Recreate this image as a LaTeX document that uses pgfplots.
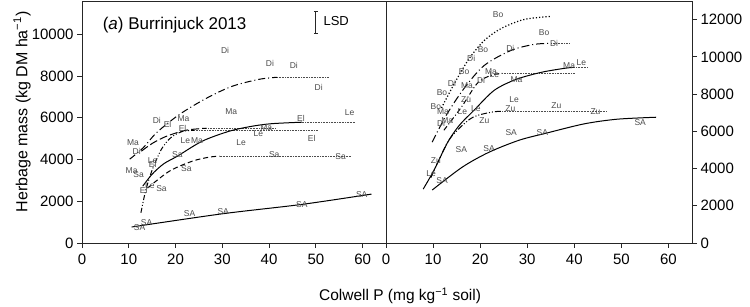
\documentclass[border=0pt]{standalone}
\usepackage{fontspec}
\setmainfont{Liberation Sans}
\usepackage{pgfplots}
\pgfplotsset{compat=1.18}
\begin{document}
\begin{tikzpicture}
\pgfplotsset{
  panel/.style={
    scale only axis, height=242bp, xmin=0, xmax=65, xtick={0,10,...,60},
    tick align=outside, major tick length=5bp, xtick pos=bottom,
    scaled y ticks=false, scaled x ticks=false,
    ticklabel style={font=\fontsize{15bp}{17bp}\selectfont},
    xticklabel style={yshift=-3bp},
    /pgf/number format/assume math mode=true, /pgf/number format/1000 sep={},
    axis line style={line width=0.9bp, black!85},
    every tick/.style={black!85, line width=0.8bp},
  },
  lab/.style={only marks, mark=*, mark size=0pt, nodes near coords, point meta=explicit symbolic,
    nodes near coords align=center,
    every node near coord/.append style={font=\fontsize{8.5bp}{9bp}\selectfont, text=black!70, inner sep=0pt}},
  ext/.style={densely dotted, line width=0.6bp, black!70},
  cur/.style={line width=1bp, black, smooth},
}
% ---------------- left panel ----------------
\begin{axis}[panel, at={(82bp,64bp)}, anchor=south west, width=304bp,
  ymin=0, ymax=11600, ytick={0,2000,...,10000}, ytick pos=left]
% Di (dash-dot)
\addplot[cur, dash pattern=on 7bp off 3bp on 1bp off 3bp] coordinates {(10.2,4019) (13.0,4545) (16,5300) (20.9,6172) (26.6,6938) (32.1,7512) (37.9,7847) (41.7,7943)};
\addplot[ext] coordinates {(41.7,7943) (52.8,7943)};
% Ma (long dash)
\addplot[cur, dash pattern=on 8bp off 3bp] coordinates {(12.7,4402) (15.1,4785) (18.1,5120) (22.3,5407) (26.6,5502)};
\addplot[ext] coordinates {(26.6,5502) (41.5,5502)};
% El (steep dash-dot-dot)
\addplot[cur, dash pattern=on 5bp off 2bp on 1bp off 2bp on 1bp off 2bp] coordinates {(12.6,1450) (13.6,2500) (15.0,3500) (17.0,4500) (19.0,5050) (21.5,5350) (24,5400)};
\addplot[ext] coordinates {(24,5400) (50.6,5400)};
% Le (solid)
\addplot[cur] coordinates {(13,2727) (15,3300) (17.5,3800) (20.4,4163) (25.7,4880) (31.5,5359) (36.4,5598) (40.6,5720) (47,5790)};
\addplot[ext] coordinates {(47,5790) (58.5,5790)};
% Sa (dashed)
\addplot[cur, dash pattern=on 5bp off 3bp] coordinates {(14,2632) (18.7,3445) (23.6,3923) (27.2,4115) (29.4,4163)};
\addplot[ext] coordinates {(29.4,4163) (57.4,4163)};
% SA (solid line)
\addplot[cur] coordinates {(10.6,766) (30,1400) (47,1850) (61.9,2344)};
% labels
\addplot[lab] coordinates {
(30.6,9234)[Di] (40.2,8612)[Di] (45.3,8517)[Di] (50.6,7464)[Di]
(31.9,6316)[Ma] (57.2,6268)[Le] (16.0,5885)[Di] (18.3,5694)[El] (21.7,5981)[Ma] (46.8,5981)[El]
(21.5,5502)[El] (39.4,5550)[Ma] (37.7,5263)[Le] (49.1,5024)[El] (22.1,4928)[Le] (24.6,4928)[Ma]
(34.0,4833)[Le] (10.9,4833)[Ma] (11.7,4402)[Di] (20.4,4258)[Sa] (15.1,3971)[Le] (15.1,3780)[El]
(22.3,3589)[Sa] (10.6,3493)[Ma] (12.1,3301)[Sa] (41.1,4258)[Sa] (55.3,4163)[Sa]
(13.2,2536)[El] (14.5,2727)[Le] (17.0,2632)[Sa]
(12.3,718)[SA] (13.8,957)[SA] (23.0,1388)[SA] (30.2,1483)[SA] (47.0,1818)[SA] (59.8,2344)[SA]
};
% LSD bar
\addplot[black!85, line width=0.8bp, mark=none, error bars/.cd, y dir=both, y explicit,
  error bar style={line width=0.8bp, black!85}, error mark options={rotate=90, mark size=2bp, line width=0.8bp}]
  coordinates {(50,10574) +- (0,526)};
\node[anchor=west, font=\fontsize{13bp}{15bp}\selectfont, inner sep=0pt] at (axis cs:51.6,10620) {LSD};
\node[anchor=west, font=\fontsize{17bp}{19bp}\selectfont, inner sep=0pt] at (axis cs:4.4,10430) {(\textit{a}) Burrinjuck 2013};
\end{axis}
% ---------------- right panel ----------------
\begin{axis}[panel, at={(386bp,64bp)}, anchor=south west, width=306bp,
  ymin=0, ymax=13000, ytick={0,2000,...,12000}, ytick pos=right]
% Bo dotted
\addplot[cur, dash pattern=on 1.2bp off 2bp, line width=1.2bp] coordinates {(11.8,7250) (12.3,7507) (14.9,8740) (17.7,9920) (20.9,10885) (24.5,11528) (29.4,12011) (35.1,12172)};
% Di dash-dot
\addplot[cur, dash pattern=on 8bp off 3bp on 1bp off 3bp] coordinates {(9.8,5416) (12.8,6863) (16.6,8311) (20.9,9544) (26.6,10349) (31.5,10670) (35.1,10724)};
\addplot[ext] coordinates {(35.1,10724) (38.9,10724)};
% Ma dash-dot
\addplot[cur, dash pattern=on 5bp off 2.5bp on 1bp off 2.5bp] coordinates {(12.3,6059) (16.0,7292) (19.4,8579) (22.3,9008) (24.7,9115)};
\addplot[ext] coordinates {(24.7,9115) (40.0,9115)};
% Le solid
\addplot[cur] coordinates {(7.9,2895) (10.2,3914) (13.0,5362) (15.5,6300) (18.7,7131) (23.0,8204) (27.7,8794) (33.0,9169) (37.9,9383) (40.0,9437)};
\addplot[ext] coordinates {(40.0,9437) (42.8,9437)};
% Zu dash-dot-dot
\addplot[cur, dash pattern=on 6bp off 2bp on 1bp off 2bp on 1bp off 2bp] coordinates {(9.5,3500) (11.5,4600) (13.8,5684) (18.1,6702) (22.3,7024) (24.7,7078)};
\addplot[ext] coordinates {(24.7,7078) (47.0,7078)};
% SA solid
\addplot[cur] coordinates {(9.8,2842) (16.2,4075) (21.9,4879) (28.3,5523) (34.0,5898) (42.1,6400) (49.1,6650) (57.4,6756)};
% labels
\addplot[lab] coordinates {
(23.8,12279)[Bo] (33.6,11314)[Bo] (20.6,10402)[Bo] (26.4,10456)[Di] (35.7,10724)[Di] (18.1,9920)[Di]
(16.6,9223)[Bo] (22.3,9223)[Ma] (23.0,9062)[Le] (20.2,8740)[Di] (27.7,8794)[Ma] (38.9,9544)[Ma] (41.5,9705)[Le]
(14.0,8579)[Di] (17.2,8472)[Ma] (11.9,8097)[Bo] (17.0,7721)[Zu] (27.2,7721)[Le] (10.6,7346)[Bo]
(12.1,7078)[Ma] (16.2,7078)[Le] (19.1,7239)[Le] (26.4,7239)[Zu] (36.2,7399)[Zu] (44.5,7078)[Zu]
(13.0,6595)[Ma] (11.7,6434)[Di] (20.9,6595)[Zu] (26.6,5952)[SA] (33.2,5952)[SA] (54.0,6488)[SA]
(16.0,5040)[SA] (21.9,5094)[SA] (10.6,4450)[Zu] (9.6,3753)[Le] (11.9,3378)[SA]
};
\end{axis}
% axis titles
\node[font=\fontsize{15.5bp}{17bp}\selectfont] at (400bp,11bp) {Colwell P (mg kg\textsuperscript{−1} soil)};
\node[font=\fontsize{16bp}{18bp}\selectfont, rotate=90] at (22bp,195bp) {Herbage mass (kg DM ha\textsuperscript{−1})};
\pgfresetboundingbox
\path[use as bounding box] (0,0) rectangle (750bp,307bp);
\end{tikzpicture}
\end{document}
